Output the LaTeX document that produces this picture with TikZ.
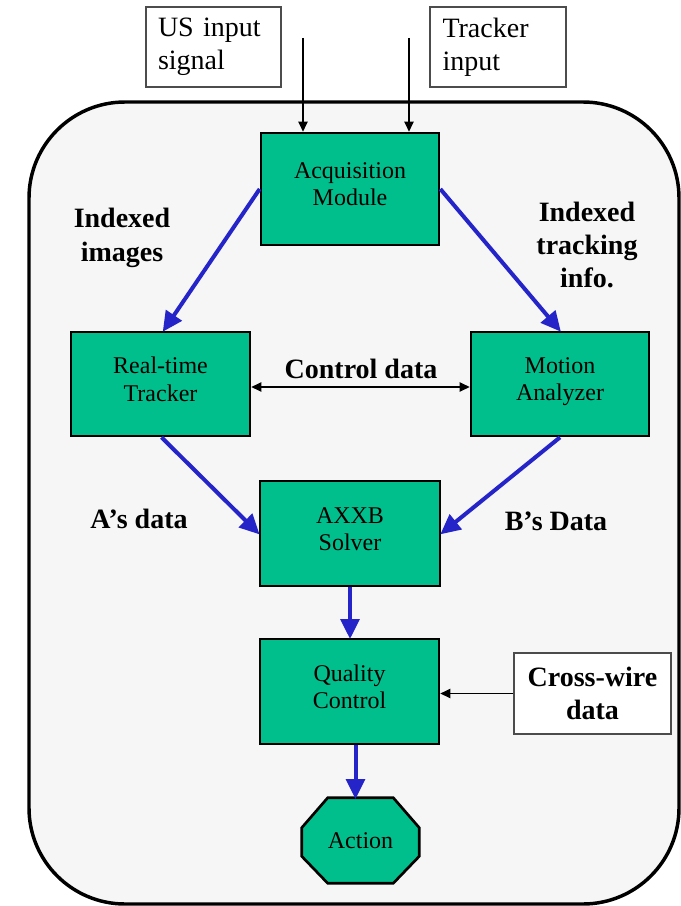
\documentclass[tikz,border=0pt]{standalone}
\usepackage{fontspec}
\setmainfont{Liberation Serif}
\usetikzlibrary{arrows.meta,calc}
\definecolor{boxgreen}{RGB}{0,191,140}
\definecolor{flowblue}{RGB}{36,36,200}
\definecolor{panelgray}{RGB}{246,246,246}
\begin{document}
\begin{tikzpicture}[x=0.75pt,y=-0.75pt,
  greenbox/.style={draw=black,line width=2pt,fill=boxgreen,align=center,
    font=\fontsize{18}{20.5}\selectfont,inner sep=0pt,text depth=7pt},
  inbox/.style={draw=black!70,line width=0.9pt,fill=white,align=left,
    font=\fontsize{21}{25}\selectfont,inner sep=0pt,text width=83.25pt},
  lbl/.style={align=center,font=\bfseries\fontsize{21}{25}\selectfont,inner sep=0pt},
  bluearrow/.style={draw=flowblue,line width=3pt,-{Triangle[length=15pt,width=14pt]},shorten >=-1pt},
  thinarrow/.style={draw=black,line width=0.8pt,-{Triangle[length=7.5pt,width=7pt]}},
  twoarrow/.style={draw=black,line width=0.8pt,{Triangle[length=7.5pt,width=7pt]}-{Triangle[length=7.5pt,width=7pt]}}
]
\useasboundingbox (0,0) rectangle (681,906);
% outer panel
\draw[line width=2.6pt,fill=panelgray,rounded corners=72pt] (29,102) rectangle (679,904);

% input boxes
\node[inbox,minimum width=101.25pt,minimum height=60pt] (usin) at (213.5,47) {US input\\signal};
\node[inbox,minimum width=102pt,minimum height=60pt] (trin) at (498,47) {Tracker\\input};

% green boxes
\node[greenbox,minimum width=133.5pt,minimum height=84pt] (acq) at (350,189) {Acquisition\\Module};
\node[greenbox,minimum width=134.25pt,minimum height=78pt] (rtt) at (160.5,384) {Real-time\\Tracker};
\node[greenbox,minimum width=133.5pt,minimum height=78pt] (mot) at (560,384) {Motion\\Analyzer};
\node[greenbox,minimum width=135pt,minimum height=78.75pt] (axxb) at (350,533.5) {AXXB\\Solver};
\node[greenbox,minimum width=134.25pt,minimum height=78.75pt] (qc) at (349.5,691.5) {Quality\\Control};

% cross-wire box
\node[draw=black!70,line width=0.9pt,fill=white,align=center,inner sep=0pt,
  font=\bfseries\fontsize{21}{25}\selectfont,minimum width=117.75pt,minimum height=60.75pt] (cw) at (592.5,693.5) {Cross-wire\\data};

% action octagon
\node[inner sep=0pt,minimum width=87.75pt,minimum height=63.75pt] (act) at (360.5,840.5) {};
\draw[line width=2pt,fill=boxgreen]
  ($(act.north west)+(26,0)$) -- ($(act.north east)+(-26,0)$) -- ($(act.north east)+(0,30)$)
  -- ($(act.south east)+(0,-27)$) -- ($(act.south east)+(-26,0)$) -- ($(act.south west)+(26,0)$)
  -- ($(act.south west)+(0,-27)$) -- ($(act.north west)+(0,30)$) -- cycle;
\node[font=\fontsize{18}{20}\selectfont] (acttext) at (act.center) {Action};

% labels
\node[lbl] (lidx) at (122,238) {Indexed\\images};
\node[lbl] (ltrk) at (587,245) {Indexed\\tracking\\info.};
\node[lbl] (lctl) at (361,369) {Control data};
\node[lbl] (la) at (139,519) {A’s data};
\node[lbl] (lb) at (556,521) {B’s Data};

% input arrows
\coordinate (usstart) at (303,38);
\coordinate (trstart) at (409,38);
\draw[thinarrow] (usstart) -- (usstart |- acq.north);
\draw[thinarrow] (trstart) -- (trstart |- acq.north);

% blue flow arrows
\draw[bluearrow] (acq.west) -- ($(rtt.north)+(3,0)$);
\draw[bluearrow] (acq.east) -- (mot.north);
\draw[bluearrow] ($(rtt.south)+(1,0)$) -- (axxb.west);
\draw[bluearrow] (mot.south) -- (axxb.east);
\draw[bluearrow] (axxb.south) -- (axxb.south |- qc.north);
\coordinate (qcout) at ($(qc.south)+(6,0)$);
\draw[bluearrow] (qcout) -- (qcout |- act.north);

% control and cross-wire arrows
\draw[twoarrow] ($(rtt.east)+(0,3)$) -- ($(mot.west)+(0,3)$);
\draw[thinarrow] (cw.west) -- (cw.west -| qc.east);
\end{tikzpicture}
\end{document}
